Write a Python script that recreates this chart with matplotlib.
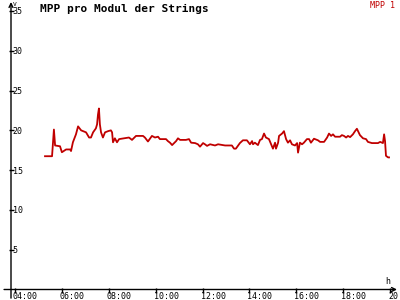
import matplotlib
matplotlib.use("Agg")
import matplotlib.pyplot as plt
from matplotlib.transforms import ScaledTranslation

plt.rcParams['font.family'] = ['DejaVu Sans Mono']

title = "MPP pro Modul der Strings"
series_name = "MPP 1"
y_unit = "V"
x_unit = "h"

# time of day in decimal hours, MPP voltage per module in V
hours = [5.28, 5.58, 5.62, 5.66, 5.71, 5.92, 6.00, 6.18, 6.35, 6.39,
         6.47, 6.60, 6.69, 6.82, 7.03, 7.16, 7.24, 7.33, 7.45, 7.50,
         7.54, 7.58, 7.62, 7.67, 7.75, 7.84, 7.97, 8.09, 8.14, 8.18,
         8.26, 8.35, 8.44, 8.65, 8.86, 8.99, 9.16, 9.46, 9.54, 9.67,
         9.84, 9.97, 10.10, 10.18, 10.44, 10.52, 10.61, 10.70, 10.87, 10.95,
         11.04, 11.29, 11.42, 11.51, 11.68, 11.80, 11.89, 12.02, 12.10, 12.19,
         12.32, 12.53, 12.66, 12.96, 13.25, 13.34, 13.42, 13.59, 13.72, 13.89,
         14.02, 14.11, 14.15, 14.23, 14.36, 14.45, 14.53, 14.62, 14.70, 14.83,
         14.92, 15.00, 15.09, 15.13, 15.22, 15.26, 15.39, 15.47, 15.56, 15.64,
         15.73, 15.81, 15.94, 16.03, 16.07, 16.15, 16.24, 16.32, 16.45, 16.54,
         16.62, 16.75, 16.92, 17.01, 17.18, 17.31, 17.39, 17.48, 17.56, 17.65,
         17.86, 17.94, 18.03, 18.12, 18.20, 18.29, 18.41, 18.50, 18.58, 18.63,
         18.71, 18.84, 18.97, 19.05, 19.22, 19.48, 19.57, 19.69, 19.74, 19.78,
         19.82, 19.91, 19.95]
volts = [16.75, 16.75, 18.5, 20.1, 18.1, 18.0, 17.25, 17.6, 17.6, 17.4,
         18.5, 19.5, 20.5, 20.0, 19.75, 19.1, 19.1, 19.75, 20.25, 20.75,
         22.0, 22.75, 20.75, 19.75, 19.1, 19.75, 19.9, 20.0, 19.75, 18.5,
         19.0, 18.5, 18.9, 19.0, 19.1, 18.8, 19.3, 19.3, 19.1, 18.6,
         19.3, 19.1, 19.2, 18.9, 18.9, 18.65, 18.45, 18.15, 18.65, 19.0,
         18.8, 18.8, 18.9, 18.45, 18.4, 18.25, 17.95, 18.4, 18.25, 18.05,
         18.25, 18.1, 18.25, 18.1, 18.1, 17.7, 17.7, 18.4, 18.75, 18.75,
         18.25, 18.65, 18.25, 18.45, 18.15, 18.8, 18.9, 19.6, 19.1, 18.9,
         18.25, 17.7, 18.45, 17.7, 18.45, 19.3, 19.6, 19.9, 18.9, 18.45,
         18.75, 18.25, 18.1, 18.4, 17.2, 18.45, 18.25, 18.45, 18.9, 18.9,
         18.45, 18.95, 18.75, 18.55, 18.55, 19.1, 19.6, 19.3, 19.5, 19.2,
         19.2, 19.4, 19.3, 19.1, 19.3, 19.15, 19.5, 19.9, 20.2, 19.9,
         19.4, 19.0, 18.9, 18.55, 18.4, 18.4, 18.55, 18.4, 19.5, 18.65,
         16.8, 16.6, 16.6]

x_ticks = [4, 6, 8, 10, 12, 14, 16, 18, 20]
x_labels = ["04:00", "06:00", "08:00", "10:00", "12:00", "14:00", "16:00", "18:00", "20:00"]
y_ticks = [5, 10, 15, 20, 25, 30, 35]

red = '#c00000'

fig = plt.figure(figsize=(4, 3), dpi=100)
ax = fig.add_axes([11 / 400, 10.5 / 300, 386 / 400, 287.5 / 300])
ax.plot(hours, volts, color=red, lw=1.3)

ax.set_xlim(3.83, 20.29)
ax.set_ylim(0, 36.13)

for s in ax.spines.values():
    s.set_visible(False)

# axis lines with open arrow heads
arrow = dict(arrowstyle='->', lw=1.0, color='black', shrinkA=0, shrinkB=0,
             mutation_scale=7)
ax.annotate('', xy=(0, 1), xytext=(0, -0.03), xycoords='axes fraction',
            arrowprops=arrow, annotation_clip=False)
ax.annotate('', xy=(1, 0), xytext=(-0.018, 0), xycoords='axes fraction',
            arrowprops=arrow, annotation_clip=False)

ax.set_xticks(x_ticks)
ax.set_xticklabels(x_labels)
ax.set_yticks(y_ticks)
ax.tick_params(axis='x', direction='inout', length=3.6, width=1.0, pad=0.3,
               labelsize=6)
ax.tick_params(axis='y', direction='inout', length=3.6, width=1.0, pad=-2.9,
               labelsize=6)
shift = ScaledTranslation(-2 / 100, 0, fig.dpi_scale_trans)
for lbl in ax.get_xticklabels():
    lbl.set_horizontalalignment('left')
    lbl.set_transform(lbl.get_transform() + shift)
for lbl in ax.get_yticklabels():
    lbl.set_horizontalalignment('left')

fig.text(40 / 400, 1 - 12 / 300, title, fontsize=8, fontweight='bold',
         va='baseline', ha='left')
fig.text(370 / 400, 1 - 7.5 / 300, series_name, fontsize=6, color=red,
         va='baseline', ha='left')
fig.text(13 / 400, 1 - 6 / 300, y_unit, fontsize=4.5, va='baseline', ha='left')
fig.text(385 / 400, 1 - 284 / 300, x_unit, fontsize=6, va='baseline', ha='left')

fig.savefig("out.png", dpi=100, facecolor='white')
